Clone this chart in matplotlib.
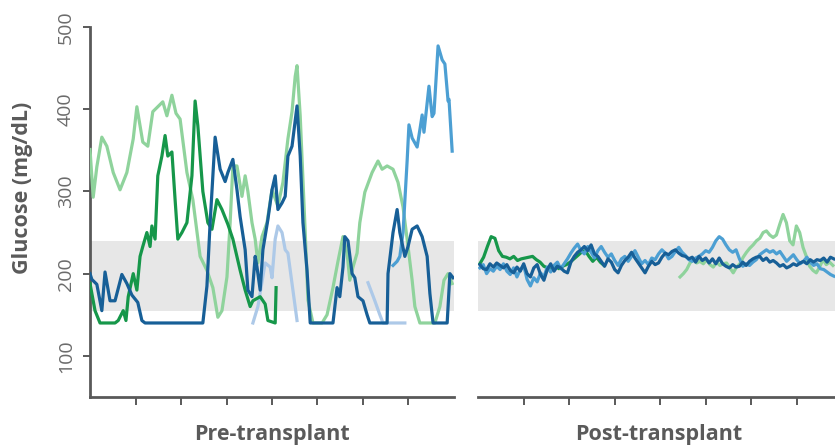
import numpy as np
import matplotlib
matplotlib.use("Agg")
import matplotlib.pyplot as plt

plt.rcParams['font.family'] = ['Open Sans', 'DejaVu Sans']

# ---------------- data ----------------
y_ticks = [100, 200, 300, 400, 500]
target_low, target_high = 155, 240
panel_labels = ["Pre-transplant", "Post-transplant"]
x_ticks = [1, 2, 3, 4, 5, 6, 7]

# Pre-transplant (time in tick units, glucose mg/dL)
pre_lgreen_t = [0.00, 0.07, 0.15, 0.26, 0.37, 0.51, 0.66, 0.81, 0.95, 1.03, 1.16, 1.27, 1.38, 1.60, 1.69, 1.80, 1.89, 1.98,
                2.13, 2.26, 2.42, 2.57, 2.70, 2.81, 2.90, 3.01, 3.08, 3.14, 3.23, 3.34, 3.41, 3.47, 3.56, 3.63, 3.69, 3.78,
                3.89, 4.00, 4.13, 4.24, 4.35, 4.44, 4.51, 4.55, 4.62, 4.73, 4.79, 4.90, 5.10, 5.21, 5.34, 5.45, 5.56, 5.65,
                5.71, 5.78, 5.87, 5.93, 6.04, 6.20, 6.33, 6.42, 6.53, 6.66, 6.77, 6.88, 6.97, 7.08, 7.14, 7.25, 7.58, 7.69,
                7.78, 7.87, 7.96]
pre_lgreen_v = [351, 293, 330, 366, 355, 323, 302, 323, 364, 403, 360, 355, 397, 409, 392, 417, 395, 388,
                323, 290, 221, 204, 183, 147, 155, 196, 262, 331, 331, 294, 319, 300, 262, 242, 213, 245,
                262, 302, 282, 311, 364, 397, 440, 453, 392, 250, 168, 140, 140, 150, 183, 215, 245, 225,
                192, 208, 225, 262, 299, 323, 337, 327, 331, 327, 311, 281, 242, 192, 160, 140, 140, 160,
                192, 200, 188]

pre_dblue_t = [0.00, 0.04, 0.15, 0.26, 0.33, 0.44, 0.55, 0.70, 0.81, 0.92, 1.05, 1.14, 1.21, 2.48, 2.57, 2.64, 2.75, 2.86,
               2.97, 3.03, 3.14, 3.23, 3.30, 3.41, 3.47, 3.56, 3.63, 3.67, 3.74, 3.80, 3.91, 4.00, 4.07, 4.13, 4.22, 4.29,
               4.35, 4.44, 4.55, 4.62, 4.68, 4.77, 4.84, 5.34, 5.43, 5.49, 5.56, 5.60, 5.67, 5.76, 5.82, 5.89, 6.00, 6.09,
               6.15, 6.53, 6.55, 6.66, 6.75, 6.81, 6.92, 6.99, 7.08, 7.19, 7.30, 7.41, 7.47, 7.54, 7.85, 7.91, 7.98]
pre_dblue_v = [200, 193, 187, 155, 202, 167, 167, 199, 188, 174, 165, 143, 140, 140, 185, 262, 366, 327,
               312, 323, 339, 302, 269, 229, 180, 172, 221, 208, 180, 229, 266, 302, 319, 278, 286, 294,
               343, 355, 404, 343, 262, 204, 140, 140, 183, 172, 208, 245, 240, 200, 195, 172, 167, 150,
               140, 140, 200, 250, 278, 250, 221, 233, 254, 258, 245, 221, 176, 140, 140, 200, 195]

pre_dgreen_t = [0.00, 0.11, 0.22, 0.55, 0.62, 0.73, 0.79, 0.84, 0.95, 1.03, 1.10, 1.16, 1.25, 1.32, 1.36, 1.43, 1.49, 1.58,
                1.65, 1.71, 1.80, 1.87, 1.93, 2.02, 2.13, 2.24, 2.31, 2.37, 2.48, 2.59, 2.68, 2.79, 2.90, 3.03, 3.14, 3.30,
                3.41, 3.52, 3.58, 3.74, 3.85, 3.91, 4.07, 4.09]
pre_dgreen_v = [188, 155, 140, 140, 143, 155, 143, 172, 200, 180, 221, 233, 250, 233, 258, 242, 319, 343,
                368, 343, 348, 290, 242, 250, 262, 319, 410, 380, 300, 262, 254, 290, 278, 260, 242, 204,
                180, 160, 167, 172, 163, 143, 140, 183]

pre_lblue1_t = [3.58, 3.69, 3.78, 3.85, 3.96, 4.00, 4.07, 4.13, 4.22, 4.29, 4.35, 4.44, 4.55]
pre_lblue1_v = [140, 160, 190, 213, 208, 195, 242, 258, 250, 229, 225, 188, 143]
pre_lblue2_t = [6.11, 6.26, 6.37, 6.44, 6.92]
pre_lblue2_v = [189, 167, 150, 140, 140]

pre_mblue_t = [6.66, 6.75, 6.81, 6.88, 6.97, 7.01, 7.08, 7.19, 7.25, 7.30, 7.34, 7.45, 7.52, 7.56, 7.65, 7.74, 7.80,
               7.87, 7.89, 7.96]
pre_mblue_v = [210, 215, 221, 250, 337, 381, 365, 354, 375, 393, 372, 428, 391, 395, 477, 460, 455, 410, 412, 349]

# Post-transplant (regularly sampled CGM readings between start and end time)
post_dblue_span = (0.04, 7.82)
post_dblue_v = [211, 206, 205, 212, 208, 213, 210, 207, 211, 204, 201, 208, 203, 212, 200, 196, 207, 211, 199, 192,
                205, 212, 203, 209, 207, 203, 201, 214, 221, 226, 229, 233, 228, 235, 224, 221, 215, 209, 218, 214,
                205, 201, 210, 216, 220, 226, 219, 213, 207, 201, 209, 215, 211, 213, 220, 225, 223, 227, 229, 225,
                222, 221, 218, 220, 214, 221, 216, 219, 213, 218, 212, 219, 212, 209, 207, 211, 208, 209, 214, 210,
                215, 218, 220, 221, 216, 219, 214, 216, 213, 209, 211, 207, 209, 212, 210, 213, 215, 212, 217, 214,
                217, 216, 219, 214, 220, 218]

post_mblue_span = (0.04, 7.82)
post_mblue_v = [207, 211, 200, 206, 203, 209, 205, 212, 203, 199, 207, 196, 205, 210, 193, 185, 195, 190, 201, 196,
                208, 202, 210, 214, 206, 212, 218, 225, 231, 236, 228, 224, 233, 226, 219, 228, 233, 226, 220, 224,
                216, 210, 218, 221, 215, 221, 228, 220, 212, 216, 211, 219, 217, 224, 229, 225, 218, 221, 227, 232,
                226, 222, 217, 215, 219, 221, 224, 228, 226, 232, 240, 245, 242, 235, 229, 226, 229, 218, 209, 212,
                210, 214, 217, 223, 226, 229, 226, 228, 224, 227, 221, 215, 219, 223, 217, 212, 215, 220, 214, 210,
                212, 206, 205, 202, 199, 197]

post_dgreen_span = (0.04, 2.77)
post_dgreen_v = [212, 220, 233, 245, 243, 228, 221, 220, 218, 221, 216, 218, 219, 220, 221, 217, 214, 209, 207, 205,
                 210, 206, 209, 211, 214, 218, 222, 226, 228, 221, 215, 220, 214, 210]

post_lgreen_span = (4.44, 7.80)
post_lgreen_v = [196, 200, 205, 213, 217, 213, 215, 212, 217, 211, 208, 214, 210, 212, 213, 207, 201, 208, 212, 220,
                 226, 231, 235, 240, 243, 250, 252, 247, 244, 247, 260, 272, 262, 240, 235, 258, 250, 232, 221, 209,
                 204, 201, 208, 217, 211, 214, 210]

# ---------------- style ----------------
C_DBLUE = "#175f97"
C_MBLUE = "#4c9fd3"
C_LBLUE = "#adc9e8"
C_DGREEN = "#16974a"
C_LGREEN = "#8fd39c"
BAND = "#e7e7e7"
AXIS = "#595959"
TXT = "#5a5a5a"
LW = 2.3

fig = plt.figure(figsize=(8.35, 4.47), dpi=100)
ax1 = fig.add_axes([0.1078, 0.1119, 0.4359, 0.8277])
ax2 = fig.add_axes([0.5725, 0.1119, 0.4359, 0.8277])

for ax in (ax1, ax2):
    ax.set_xlim(0, 8)
    ax.set_ylim(50, 500)
    ax.axhspan(target_low, target_high, color=BAND, lw=0, zorder=0)
    ax.spines['top'].set_visible(False)
    ax.spines['right'].set_visible(False)
    ax.spines['bottom'].set_color(AXIS)
    ax.spines['bottom'].set_linewidth(2)
    ax.set_xticks(x_ticks)
    ax.set_xticklabels([])
    ax.tick_params(axis='x', length=6, width=1.4, color=AXIS)
    ax.patch.set_alpha(0)

ax1.spines['left'].set_color(AXIS)
ax1.spines['left'].set_linewidth(2)
ax1.set_yticks(y_ticks)
ax1.tick_params(axis='y', length=5, width=1.4, color=AXIS, labelsize=14, labelcolor="#6b6b6b", pad=6)
for lab in ax1.get_yticklabels():
    lab.set_rotation(90)
    lab.set_va('center')

fig.text(0.0275, 0.579, "Glucose (mg/dL)", rotation=90, ha='center', va='center',
         fontsize=15.5, fontweight='bold', color=TXT)

ax2.spines['left'].set_visible(False)
ax2.set_yticks([])

# pre lines
ax1.plot(pre_lblue1_t, pre_lblue1_v, color=C_LBLUE, lw=LW, zorder=2)
ax1.plot(pre_lblue2_t, pre_lblue2_v, color=C_LBLUE, lw=LW, zorder=2)
ax1.plot(pre_lgreen_t, pre_lgreen_v, color=C_LGREEN, lw=LW, zorder=3)
ax1.plot(pre_mblue_t, pre_mblue_v, color=C_MBLUE, lw=LW, zorder=3)
ax1.plot(pre_dgreen_t, pre_dgreen_v, color=C_DGREEN, lw=LW, zorder=4)
ax1.plot(pre_dblue_t, pre_dblue_v, color=C_DBLUE, lw=LW, zorder=5)

# post lines
def post_line(span, vals, color, z):
    t = np.linspace(span[0], span[1], len(vals))
    ax2.plot(t, vals, color=color, lw=LW, zorder=z)

post_line(post_lgreen_span, post_lgreen_v, C_LGREEN, 3)
post_line(post_dgreen_span, post_dgreen_v, C_DGREEN, 4)
post_line(post_mblue_span, post_mblue_v, C_MBLUE, 4)
post_line(post_dblue_span, post_dblue_v, C_DBLUE, 5)

fig.text(0.3257, 0.016, panel_labels[0], ha='center', va='baseline',
         fontsize=15.5, fontweight='bold', color=TXT)
fig.text(0.789, 0.016, panel_labels[1], ha='center', va='baseline',
         fontsize=15.5, fontweight='bold', color=TXT)

fig.savefig("out.png", dpi=100)
